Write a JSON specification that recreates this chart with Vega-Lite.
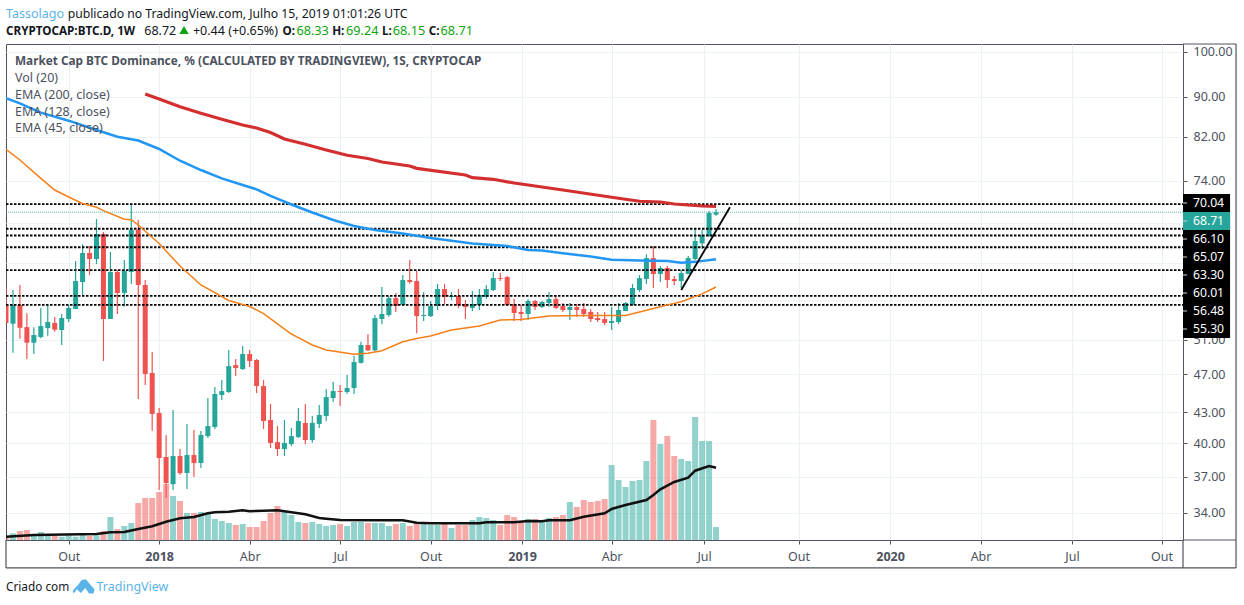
{
"$schema":"https://vega.github.io/schema/vega-lite/v6.json",
"width":1177,"height":496,
"autosize":"none",
"padding":{"left":6,"top":44,"right":61,"bottom":65},
"background":"#ffffff",
"config":{"view":{"stroke":"#50535e"},"font":"Noto Sans","text":{"font":"Noto Sans"}},
"datasets":{
"candles":[
{"date":"2017-07-31","open":55.29,"high":57.54,"low":53.01,"close":53.01,"vol":4},
{"date":"2017-08-07","open":52.92,"high":57.27,"low":49.45,"close":55.29,"vol":6.7},
{"date":"2017-08-14","open":55.29,"high":57.93,"low":51.09,"close":52.42,"vol":9},
{"date":"2017-08-21","open":52.5,"high":54.23,"low":48.72,"close":50.62,"vol":10},
{"date":"2017-08-28","open":50.62,"high":52.5,"low":49.3,"close":51.54,"vol":4},
{"date":"2017-09-04","open":51.3,"high":54.91,"low":51.14,"close":52.63,"vol":8},
{"date":"2017-09-11","open":52.38,"high":55.29,"low":51.45,"close":53.13,"vol":4.7},
{"date":"2017-09-18","open":53.01,"high":53.76,"low":51.94,"close":52.19,"vol":4},
{"date":"2017-09-25","open":52.15,"high":54.14,"low":50.35,"close":53.63,"vol":3.3},
{"date":"2017-10-02","open":53.51,"high":55.29,"low":53.13,"close":54.91,"vol":4.7},
{"date":"2017-10-09","open":54.78,"high":61.3,"low":54.78,"close":58.48,"vol":3.3},
{"date":"2017-10-16","open":58.35,"high":63.74,"low":56.6,"close":62.45,"vol":5.3},
{"date":"2017-10-23","open":62.45,"high":63.49,"low":59.31,"close":61.58,"vol":4},
{"date":"2017-10-30","open":61.58,"high":67.63,"low":60.85,"close":65.29,"vol":4.7},
{"date":"2017-11-06","open":65.29,"high":65.6,"low":48.5,"close":53.51,"vol":9},
{"date":"2017-11-13","open":53.51,"high":62.6,"low":53.51,"close":59.73,"vol":23},
{"date":"2017-11-20","open":59.73,"high":60.01,"low":54.14,"close":56.87,"vol":11},
{"date":"2017-11-27","open":56.87,"high":61.44,"low":55.07,"close":59.87,"vol":14},
{"date":"2017-12-04","open":59.73,"high":70.04,"low":58.07,"close":65.96,"vol":17},
{"date":"2017-12-11","open":65.96,"high":67.47,"low":44.36,"close":57.95,"vol":37},
{"date":"2017-12-18","open":57.95,"high":58.62,"low":45.84,"close":47.04,"vol":42},
{"date":"2017-12-25","open":47.15,"high":49.53,"low":41.2,"close":42.84,"vol":42},
{"date":"2018-01-01","open":42.94,"high":43.44,"low":35.85,"close":38.64,"vol":48},
{"date":"2018-01-08","open":38.73,"high":40.78,"low":35.18,"close":36.44,"vol":56},
{"date":"2018-01-15","open":36.35,"high":43.24,"low":35.85,"close":38.82,"vol":44},
{"date":"2018-01-22","open":38.82,"high":39.46,"low":37.13,"close":37.31,"vol":39},
{"date":"2018-01-29","open":37.31,"high":41.85,"low":35.93,"close":38.91,"vol":27},
{"date":"2018-02-05","open":38.91,"high":41.26,"low":36.96,"close":38.19,"vol":27},
{"date":"2018-02-12","open":38.19,"high":41.16,"low":37.75,"close":40.78,"vol":28},
{"date":"2018-02-19","open":40.68,"high":44.47,"low":40.49,"close":41.65,"vol":27},
{"date":"2018-02-26","open":41.55,"high":45.63,"low":41.36,"close":44.89,"vol":21},
{"date":"2018-03-05","open":44.78,"high":46.38,"low":44.26,"close":45.2,"vol":19},
{"date":"2018-03-12","open":45.1,"high":49.76,"low":44.99,"close":47.92,"vol":17},
{"date":"2018-03-19","open":48.03,"high":48.72,"low":46.82,"close":47.7,"vol":15},
{"date":"2018-03-26","open":47.59,"high":50.23,"low":47.48,"close":49.3,"vol":16},
{"date":"2018-04-02","open":49.3,"high":49.76,"low":47.81,"close":48.5,"vol":13},
{"date":"2018-04-09","open":48.61,"high":48.72,"low":44.99,"close":45.73,"vol":13},
{"date":"2018-04-16","open":45.73,"high":46.38,"low":41.36,"close":42.14,"vol":19},
{"date":"2018-04-23","open":42.24,"high":43.85,"low":39.55,"close":40.02,"vol":27},
{"date":"2018-04-30","open":40.11,"high":41.65,"low":38.82,"close":39.46,"vol":34},
{"date":"2018-05-07","open":39.46,"high":42.24,"low":38.82,"close":40.02,"vol":28},
{"date":"2018-05-14","open":39.92,"high":41.45,"low":39.74,"close":40.68,"vol":25},
{"date":"2018-05-21","open":40.58,"high":43.44,"low":40.49,"close":42.14,"vol":18},
{"date":"2018-05-28","open":41.95,"high":43.85,"low":39.92,"close":40.3,"vol":17},
{"date":"2018-06-04","open":40.3,"high":42.64,"low":40.04,"close":41.95,"vol":18},
{"date":"2018-06-11","open":41.85,"high":43.75,"low":41.45,"close":42.74,"vol":16},
{"date":"2018-06-18","open":42.64,"high":45.42,"low":42.14,"close":44.57,"vol":14},
{"date":"2018-06-25","open":44.47,"high":46.2,"low":44.05,"close":45.2,"vol":15},
{"date":"2018-07-02","open":45.2,"high":45.84,"low":43.65,"close":45.1,"vol":16},
{"date":"2018-07-09","open":45.1,"high":46.93,"low":44.89,"close":45.52,"vol":14},
{"date":"2018-07-16","open":45.52,"high":49.07,"low":44.89,"close":48.39,"vol":18},
{"date":"2018-07-23","open":48.29,"high":50.74,"low":48.2,"close":50.35,"vol":18},
{"date":"2018-07-30","open":50.35,"high":51.66,"low":49.64,"close":49.72,"vol":17},
{"date":"2018-08-06","open":49.72,"high":54.01,"low":49.56,"close":53.63,"vol":17},
{"date":"2018-08-13","open":53.51,"high":57.67,"low":52.85,"close":54.14,"vol":17},
{"date":"2018-08-20","open":54.01,"high":56.47,"low":53.8,"close":56.2,"vol":14},
{"date":"2018-08-27","open":56.2,"high":56.87,"low":54.4,"close":55.16,"vol":16},
{"date":"2018-09-03","open":55.29,"high":59.31,"low":55.12,"close":58.62,"vol":17},
{"date":"2018-09-10","open":58.62,"high":61.44,"low":58.11,"close":58.35,"vol":14},
{"date":"2018-09-17","open":58.48,"high":59.87,"low":51.75,"close":53.88,"vol":17},
{"date":"2018-09-24","open":53.88,"high":57,"low":53.25,"close":54.01,"vol":17},
{"date":"2018-10-01","open":53.88,"high":55.81,"low":53.76,"close":55.16,"vol":15},
{"date":"2018-10-08","open":55.16,"high":58.07,"low":54.65,"close":57.4,"vol":15},
{"date":"2018-10-15","open":57.4,"high":58.07,"low":55.42,"close":56.34,"vol":16},
{"date":"2018-10-22","open":56.34,"high":57,"low":55.94,"close":56.47,"vol":12},
{"date":"2018-10-29","open":56.47,"high":57.4,"low":54.91,"close":55.23,"vol":15},
{"date":"2018-11-05","open":55.42,"high":55.94,"low":53.51,"close":55.03,"vol":15},
{"date":"2018-11-12","open":54.91,"high":57.14,"low":54.52,"close":55.42,"vol":20},
{"date":"2018-11-19","open":55.29,"high":57.4,"low":54.65,"close":56.6,"vol":23},
{"date":"2018-11-26","open":56.34,"high":57.93,"low":56.07,"close":57.4,"vol":22},
{"date":"2018-12-03","open":57.27,"high":59.73,"low":57.14,"close":58.89,"vol":20},
{"date":"2018-12-10","open":58.89,"high":59.59,"low":58.48,"close":58.76,"vol":15},
{"date":"2018-12-17","open":59.03,"high":59.17,"low":55.2,"close":55.29,"vol":25},
{"date":"2018-12-24","open":55.42,"high":56.07,"low":53.25,"close":54.27,"vol":23},
{"date":"2018-12-31","open":54.4,"high":55.29,"low":53.25,"close":54.14,"vol":18},
{"date":"2019-01-07","open":54.14,"high":56.07,"low":53.38,"close":55.81,"vol":21},
{"date":"2019-01-14","open":55.81,"high":55.94,"low":54.65,"close":55.03,"vol":21},
{"date":"2019-01-21","open":55.03,"high":55.81,"low":54.91,"close":55.68,"vol":18},
{"date":"2019-01-28","open":55.55,"high":57,"low":55.03,"close":56.07,"vol":22},
{"date":"2019-02-04","open":56.07,"high":56.6,"low":54.78,"close":54.91,"vol":23},
{"date":"2019-02-11","open":55.16,"high":55.55,"low":54.4,"close":54.65,"vol":25},
{"date":"2019-02-18","open":54.65,"high":55.55,"low":53.38,"close":55.03,"vol":38},
{"date":"2019-02-25","open":55.03,"high":55.42,"low":53.76,"close":54.65,"vol":33},
{"date":"2019-03-04","open":54.78,"high":55.55,"low":53.76,"close":54.14,"vol":40},
{"date":"2019-03-11","open":54.4,"high":54.78,"low":53.13,"close":53.51,"vol":38},
{"date":"2019-03-18","open":53.63,"high":54.4,"low":53.13,"close":53.38,"vol":39},
{"date":"2019-03-25","open":53.51,"high":54.4,"low":52.75,"close":53.01,"vol":41},
{"date":"2019-04-01","open":53.01,"high":55.03,"low":52.15,"close":53.25,"vol":75},
{"date":"2019-04-08","open":53.13,"high":55.55,"low":52.88,"close":54.65,"vol":60},
{"date":"2019-04-15","open":54.52,"high":55.68,"low":54.52,"close":55.55,"vol":53},
{"date":"2019-04-22","open":55.29,"high":58.07,"low":55.16,"close":57.54,"vol":59},
{"date":"2019-04-29","open":57.27,"high":59.31,"low":57,"close":58.89,"vol":60},
{"date":"2019-05-06","open":58.76,"high":62.26,"low":58.07,"close":61.72,"vol":79},
{"date":"2019-05-13","open":61.72,"high":63.49,"low":57.54,"close":59.45,"vol":120},
{"date":"2019-05-20","open":59.45,"high":60.58,"low":58.35,"close":60.3,"vol":96},
{"date":"2019-05-27","open":60.3,"high":60.58,"low":57.54,"close":58.62,"vol":104},
{"date":"2019-06-03","open":58.76,"high":59.17,"low":57.95,"close":58.48,"vol":84},
{"date":"2019-06-10","open":58.48,"high":60.01,"low":57.54,"close":59.59,"vol":81},
{"date":"2019-06-17","open":59.45,"high":62,"low":59.45,"close":61.72,"vol":79},
{"date":"2019-06-24","open":61.58,"high":66.2,"low":61.45,"close":64.23,"vol":123},
{"date":"2019-07-01","open":63.89,"high":65.91,"low":63.04,"close":65.14,"vol":99},
{"date":"2019-07-08","open":64.94,"high":68.9,"low":64.94,"close":68.6,"vol":99},
{"date":"2019-07-15","open":68.33,"high":69.24,"low":68.15,"close":68.71,"vol":13}
],
"volMA":[
{"date":"2017-07-31","vma":3.3},{"date":"2017-08-28","vma":5},{"date":"2017-10-30","vma":6},{"date":"2017-11-13","vma":7.7},{"date":"2017-11-27","vma":8},{"date":"2017-12-11","vma":11},{"date":"2017-12-25","vma":13.7},{"date":"2018-01-08","vma":18.3},{"date":"2018-01-22","vma":21.7},{"date":"2018-02-05","vma":23},{"date":"2018-02-19","vma":26.7},{"date":"2018-02-26","vma":27.7},{"date":"2018-03-12","vma":28.3},{"date":"2018-03-26","vma":29.7},{"date":"2018-04-02","vma":28.7},{"date":"2018-04-16","vma":29.3},{"date":"2018-04-30","vma":29.7},{"date":"2018-05-14","vma":27.7},{"date":"2018-05-28","vma":25.7},{"date":"2018-06-11","vma":22},{"date":"2018-06-18","vma":21.3},{"date":"2018-07-02","vma":20},{"date":"2018-08-06","vma":19.7},{"date":"2018-09-03","vma":19.7},{"date":"2018-09-17","vma":17.3},{"date":"2018-10-01","vma":16.7},{"date":"2018-11-19","vma":16.7},{"date":"2018-11-26","vma":17.7},{"date":"2018-12-24","vma":17.7},{"date":"2019-01-07","vma":19},{"date":"2019-01-21","vma":18.7},{"date":"2019-01-28","vma":19.7},{"date":"2019-02-18","vma":19.7},{"date":"2019-03-04","vma":23.3},{"date":"2019-03-25","vma":26.7},{"date":"2019-04-01","vma":31},{"date":"2019-04-15","vma":35},{"date":"2019-05-06","vma":40},{"date":"2019-05-13","vma":45},{"date":"2019-05-20","vma":50.7},{"date":"2019-06-03","vma":58},{"date":"2019-06-17","vma":62.3},{"date":"2019-06-24","vma":69.3},{"date":"2019-07-08","vma":74},{"date":"2019-07-15","vma":72.3}
],
"ema200":[
{"date":"2017-12-18","ema":90.63},{"date":"2018-01-01","ema":89.57},{"date":"2018-01-22","ema":87.98},{"date":"2018-02-12","ema":86.62},{"date":"2018-03-05","ema":85.42},{"date":"2018-03-26","ema":84.28},{"date":"2018-04-09","ema":83.69},{"date":"2018-04-23","ema":82.82},{"date":"2018-05-07","ema":81.57},{"date":"2018-05-28","ema":80.56},{"date":"2018-06-18","ema":79.49},{"date":"2018-07-09","ema":78.51},{"date":"2018-07-30","ema":77.93},{"date":"2018-08-13","ema":77.29},{"date":"2018-09-10","ema":76.57},{"date":"2018-09-17","ema":76.15},{"date":"2018-11-05","ema":74.97},{"date":"2018-11-12","ema":74.5},{"date":"2018-12-03","ema":74.22},{"date":"2018-12-24","ema":73.58},{"date":"2019-02-11","ema":72.38},{"date":"2019-04-01","ema":71.16},{"date":"2019-04-29","ema":70.5},{"date":"2019-05-20","ema":70.38},{"date":"2019-06-03","ema":70.05},{"date":"2019-07-01","ema":69.72},{"date":"2019-07-15","ema":69.67}
],
"ema128":[
{"date":"2017-07-31","ema":89.73},{"date":"2017-08-14","ema":88.68},{"date":"2017-09-04","ema":86.75},{"date":"2017-10-02","ema":85.14},{"date":"2017-10-30","ema":83.3},{"date":"2017-11-20","ema":82},{"date":"2017-12-11","ema":81.28},{"date":"2018-01-01","ema":79.68},{"date":"2018-01-22","ema":77.52},{"date":"2018-02-12","ema":75.85},{"date":"2018-03-05","ema":74.39},{"date":"2018-03-26","ema":73.23},{"date":"2018-04-09","ema":72.5},{"date":"2018-04-23","ema":71.38},{"date":"2018-05-14","ema":69.97},{"date":"2018-06-04","ema":68.67},{"date":"2018-06-25","ema":67.48},{"date":"2018-07-16","ema":66.53},{"date":"2018-08-06","ema":65.91},{"date":"2018-09-03","ema":65.37},{"date":"2018-10-01","ema":64.69},{"date":"2018-11-12","ema":63.86},{"date":"2018-12-17","ema":63.49},{"date":"2019-01-07","ema":62.9},{"date":"2019-01-21","ema":62.82},{"date":"2019-02-11","ema":62.41},{"date":"2019-03-11","ema":61.95},{"date":"2019-04-01","ema":61.48},{"date":"2019-04-29","ema":61.36},{"date":"2019-05-27","ema":61.28},{"date":"2019-06-10","ema":61.05},{"date":"2019-06-24","ema":61.17},{"date":"2019-07-15","ema":61.54}
],
"ema45":[
{"date":"2017-07-31","ema":79.62},{"date":"2017-08-14","ema":77.65},{"date":"2017-09-04","ema":74.39},{"date":"2017-09-18","ema":72.38},{"date":"2017-10-02","ema":71.2},{"date":"2017-10-16","ema":70.13},{"date":"2017-10-30","ema":69.51},{"date":"2017-11-06","ema":68.96},{"date":"2017-11-27","ema":67.59},{"date":"2017-12-04","ema":67.53},{"date":"2017-12-11","ema":66.69},{"date":"2018-01-01","ema":63.86},{"date":"2018-01-22","ema":60.58},{"date":"2018-02-12","ema":57.95},{"date":"2018-03-12","ema":55.88},{"date":"2018-04-02","ema":55.1},{"date":"2018-04-16","ema":54.2},{"date":"2018-05-14","ema":51.66},{"date":"2018-05-21","ema":51.22},{"date":"2018-06-04","ema":50.35},{"date":"2018-06-18","ema":49.76},{"date":"2018-07-16","ema":49.26},{"date":"2018-07-30","ema":49.38},{"date":"2018-08-13","ema":49.68},{"date":"2018-09-03","ema":50.74},{"date":"2018-09-17","ema":51.12},{"date":"2018-10-01","ema":51.42},{"date":"2018-10-22","ema":52.15},{"date":"2018-11-19","ema":52.63},{"date":"2018-12-10","ema":53.38},{"date":"2018-12-31","ema":53.46},{"date":"2019-01-28","ema":53.9},{"date":"2019-03-04","ema":53.95},{"date":"2019-04-15","ema":53.95},{"date":"2019-04-29","ema":54.4},{"date":"2019-05-27","ema":55.29},{"date":"2019-06-10","ema":55.72},{"date":"2019-07-01","ema":56.75},{"date":"2019-07-15","ema":57.67}
],
"trend":[{"date":"2019-06-10","level":57.27},{"date":"2019-07-29","level":69.51}],
"levels":[
{"date":"2017-07-31","date2":"2020-10-26T14:00:00Z","level":70.04},
{"date":"2017-07-31","date2":"2020-10-26T14:00:00Z","level":66.1},
{"date":"2017-07-31","date2":"2020-10-26T14:00:00Z","level":65.07},
{"date":"2017-07-31","date2":"2020-10-26T14:00:00Z","level":63.3},
{"date":"2017-07-31","date2":"2020-10-26T14:00:00Z","level":60.01},
{"date":"2017-07-31","date2":"2020-10-26T14:00:00Z","level":56.48},
{"date":"2017-07-31","date2":"2020-10-26T14:00:00Z","level":55.3}
],
"lastPrice":[{"date":"2017-07-31","date2":"2020-10-26T14:00:00Z","level":68.71}],
"frameH":[
{"date":"2020-10-26T14:00:00Z","date2":"2020-12-18T22:00:00Z","level":101.89},
{"date":"2020-10-26T14:00:00Z","date2":"2020-12-18T22:00:00Z","level":31.89},
{"date":"2017-07-31","date2":"2020-12-18T22:00:00Z","level":29.87}
],
"frameV":[
{"date":"2017-07-31","level":31.89,"level2":29.87},
{"date":"2020-10-26T14:00:00Z","level":31.89,"level2":29.87},
{"date":"2020-12-18T22:00:00Z","level":101.89,"level2":29.87}
],
"tagBlack":[{"date":"2020-10-26T14:00:00Z","date2":"2020-12-12T22:00:00Z","level":71.71,"level2":51.18}],
"tagTeal":[{"date":"2020-10-26T14:00:00Z","date2":"2020-12-12T22:00:00Z","level":68.75,"level2":65.91}],
"tagTick":[
{"date":"2020-10-26T14:00:00Z","date2":"2020-10-30T14:00:00Z","level":70.21},
{"date":"2020-10-26T14:00:00Z","date2":"2020-10-30T14:00:00Z","level":67.31},
{"date":"2020-10-26T14:00:00Z","date2":"2020-10-30T14:00:00Z","level":64.53},
{"date":"2020-10-26T14:00:00Z","date2":"2020-10-30T14:00:00Z","level":61.87},
{"date":"2020-10-26T14:00:00Z","date2":"2020-10-30T14:00:00Z","level":59.32},
{"date":"2020-10-26T14:00:00Z","date2":"2020-10-30T14:00:00Z","level":56.87},
{"date":"2020-10-26T14:00:00Z","date2":"2020-10-30T14:00:00Z","level":54.52},
{"date":"2020-10-26T14:00:00Z","date2":"2020-10-30T14:00:00Z","level":52.27}
],
"tagText":[
{"date":"2020-11-05T14:00:00Z","level":70.21,"label":"70.04"},
{"date":"2020-11-05T14:00:00Z","level":67.31,"label":"68.71"},
{"date":"2020-11-05T14:00:00Z","level":64.53,"label":"66.10"},
{"date":"2020-11-05T14:00:00Z","level":61.87,"label":"65.07"},
{"date":"2020-11-05T14:00:00Z","level":59.32,"label":"63.30"},
{"date":"2020-11-05T14:00:00Z","level":56.87,"label":"60.01"},
{"date":"2020-11-05T14:00:00Z","level":54.52,"label":"56.48"},
{"date":"2020-11-05T14:00:00Z","level":52.27,"label":"55.30"}
],
"textHead":[{"date":"2017-10-01","level":109.3,"label":"publicado no TradingView.com, Julho 15, 2019 01:01:26 UTC"}],
"textPlain":[
{"date":"2017-12-17","level":105.0,"label":"68.72"},
{"date":"2018-02-04","level":105.0,"label":"+0.44 (+0.65%)"}
],
"textFooter":[{"date":"2017-07-31","level":28.57,"label":"Criado com"}],
"textBold":[
{"date":"2017-07-31","level":105.0,"label":"CRYPTOCAP:BTC.D, 1W"},
{"date":"2018-05-05","level":105.0,"label":"O:"},
{"date":"2018-06-24","level":105.0,"label":"H:"},
{"date":"2018-08-13","level":105.0,"label":"L:"},
{"date":"2018-09-29","level":105.0,"label":"C:"}
],
"textGreen":[
{"date":"2018-05-19","level":105.0,"label":"68.33"},
{"date":"2018-07-08","level":105.0,"label":"69.24"},
{"date":"2018-08-24","level":105.0,"label":"68.15"},
{"date":"2018-10-11","level":105.0,"label":"68.71"}
],
"arrow":[{"date":"2018-01-26","level":105.29}],
"textBlue":[
{"date":"2017-07-31","level":109.3,"label":"Tassolago"},
{"date":"2017-10-30","level":28.57,"label":"TradingView"}
],
"legendTitle":[{"date":"2017-08-09","level":97.91,"label":"Market Cap BTC Dominance, % (CALCULATED BY TRADINGVIEW), 1S, CRYPTOCAP"}],
"legendRows":[
{"date":"2017-08-09","level":94.15,"label":"Vol (20)"},
{"date":"2017-08-09","level":90.4,"label":"EMA (200, close)"},
{"date":"2017-08-09","level":86.9,"label":"EMA (128, close)"},
{"date":"2017-08-09","level":83.69,"label":"EMA (45, close)"}
],
"logo":[{"date":"2017-10-17","level":28.57}]
},
"encoding":{
"x":{"field":"date","type":"temporal","title":null,
"scale":{"type":"utc","padding":0,"domain":["2017-07-31T00:00:00Z","2020-10-26T14:00:00Z"]},
"axis":{"orient":"bottom","title":null,"domain":false,"grid":true,"gridColor":"#eaf1f6","tickColor":"#50535e","tickSize":4,
"values":["2017-10-02T00:00:00Z","2018-01-01T00:00:00Z","2018-04-02T00:00:00Z","2018-07-02T00:00:00Z","2018-10-01T00:00:00Z","2019-01-01T00:00:00Z","2019-04-01T00:00:00Z","2019-07-03T00:00:00Z","2019-10-06T00:00:00Z","2020-01-06T00:00:00Z","2020-04-06T00:00:00Z","2020-07-07T00:00:00Z","2020-10-05T00:00:00Z"],
"labelExpr":"utcmonth(datum.value)==0?utcFormat(datum.value,'%Y'):utcmonth(datum.value)==3?'Abr':utcmonth(datum.value)==6?'Jul':'Out'",
"labelFontWeight":{"condition":{"test":"utcmonth(datum.value)==0","value":"bold"},"value":"normal"},
"labelColor":"#4c525e","labelFontSize":12.5,"labelPadding":6,"labelOverlap":false,"labelBound":false,"labelFlush":false}}
},
"layer":[
{"layer":[
{"data":{"name":"candles"},"mark":{"type":"bar","size":6,"clip":true},
"encoding":{"y":{"field":"vol","type":"quantitative","scale":{"domain":[0,496]},"axis":null},
"color":{"condition":{"test":"datum.close>=datum.open","value":"#26a69a"},"value":"#ef5350"},"opacity":{"value":0.5}}},
{"data":{"name":"volMA"},"mark":{"type":"line","color":"#111111","strokeWidth":2.5,"clip":true},
"encoding":{"y":{"field":"vma","type":"quantitative","scale":{"domain":[0,496]},"axis":null}}}
]},
{"layer":[
{"data":{"name":"candles"},"mark":{"type":"rule","strokeWidth":1.2,"clip":true},
"encoding":{"y":{"field":"high","type":"quantitative","title":null,"scale":{"type":"log","domain":[31.89,101.89]},
"axis":{"orient":"right","title":null,"domain":false,"grid":true,"gridColor":"#eef3f7","tickColor":"#50535e","tickSize":4,"values":[100,90,82,74,67,61,56,51,47,43,40,37,34],"labelExpr":"indexof([67,61,56],datum.value)>=0?'':format(datum.value,'.2f')","labelColor":"#4c525e","labelFontSize":12.5,"labelPadding":6,"labelOverlap":false,"labelBound":false}},
"y2":{"field":"low"},
"color":{"condition":{"test":"datum.close>=datum.open","value":"#26a69a"},"value":"#ef5350"}}},
{"data":{"name":"candles"},"mark":{"type":"bar","size":5,"clip":true},
"encoding":{"y":{"field":"open","type":"quantitative","title":null,"scale":{"type":"log","domain":[31.89,101.89]}},
"y2":{"field":"close"},
"color":{"condition":{"test":"datum.close>=datum.open","value":"#26a69a"},"value":"#ef5350"}}},
{"data":{"name":"levels"},"mark":{"type":"rule","color":"#000000","strokeWidth":1.8,"strokeDash":[2.5,1.5]},
"encoding":{"x2":{"field":"date2"},"y":{"field":"level","type":"quantitative","title":null,"scale":{"type":"log","domain":[31.89,101.89]}}}},
{"data":{"name":"lastPrice"},"mark":{"type":"rule","color":"#26a69a","strokeWidth":1,"strokeDash":[1,1],"opacity":0.7},
"encoding":{"x2":{"field":"date2"},"y":{"field":"level","type":"quantitative","title":null,"scale":{"type":"log","domain":[31.89,101.89]}}}},
{"data":{"name":"ema45"},"mark":{"type":"line","color":"#f57f17","strokeWidth":1.5,"clip":true},
"encoding":{"y":{"field":"ema","type":"quantitative","title":null,"scale":{"type":"log","domain":[31.89,101.89]}}}},
{"data":{"name":"ema128"},"mark":{"type":"line","color":"#2196f3","strokeWidth":2.5,"clip":true},
"encoding":{"y":{"field":"ema","type":"quantitative","title":null,"scale":{"type":"log","domain":[31.89,101.89]}}}},
{"data":{"name":"ema200"},"mark":{"type":"line","color":"#d32f2f","strokeWidth":3.2,"clip":true},
"encoding":{"y":{"field":"ema","type":"quantitative","title":null,"scale":{"type":"log","domain":[31.89,101.89]}}}},
{"data":{"name":"trend"},"mark":{"type":"line","color":"#000000","strokeWidth":1.8},
"encoding":{"y":{"field":"level","type":"quantitative","title":null,"scale":{"type":"log","domain":[31.89,101.89]}}}},
{"data":{"name":"frameH"},"mark":{"type":"rule","color":"#50535e","strokeWidth":1.2},
"encoding":{"x2":{"field":"date2"},"y":{"field":"level","type":"quantitative","title":null,"scale":{"type":"log","domain":[31.89,101.89]}}}},
{"data":{"name":"frameV"},"mark":{"type":"rule","color":"#50535e","strokeWidth":1.2},
"encoding":{"y":{"field":"level","type":"quantitative","title":null,"scale":{"type":"log","domain":[31.89,101.89]}},"y2":{"field":"level2"}}},
{"data":{"name":"tagBlack"},"mark":{"type":"rect","color":"#000000"},
"encoding":{"x2":{"field":"date2"},"y":{"field":"level","type":"quantitative","title":null,"scale":{"type":"log","domain":[31.89,101.89]}},"y2":{"field":"level2"}}},
{"data":{"name":"tagTeal"},"mark":{"type":"rect","color":"#26a69a"},
"encoding":{"x2":{"field":"date2"},"y":{"field":"level","type":"quantitative","title":null,"scale":{"type":"log","domain":[31.89,101.89]}},"y2":{"field":"level2"}}},
{"data":{"name":"tagTick"},"mark":{"type":"rule","color":"#d6d8dc","strokeWidth":1},
"encoding":{"x2":{"field":"date2"},"y":{"field":"level","type":"quantitative","title":null,"scale":{"type":"log","domain":[31.89,101.89]}}}},
{"data":{"name":"tagText"},"mark":{"type":"text","align":"left","baseline":"middle","color":"#ffffff","fontSize":12.2},
"encoding":{"text":{"field":"label"},"y":{"field":"level","type":"quantitative","title":null,"scale":{"type":"log","domain":[31.89,101.89]}}}},
{"data":{"name":"textHead"},"mark":{"type":"text","align":"left","baseline":"middle","color":"#131722","fontSize":12.2},
"encoding":{"text":{"field":"label"},"y":{"field":"level","type":"quantitative","title":null,"scale":{"type":"log","domain":[31.89,101.89]}}}},
{"data":{"name":"textPlain"},"mark":{"type":"text","align":"left","baseline":"middle","color":"#131722","fontSize":12.5},
"encoding":{"text":{"field":"label"},"y":{"field":"level","type":"quantitative","title":null,"scale":{"type":"log","domain":[31.89,101.89]}}}},
{"data":{"name":"textFooter"},"mark":{"type":"text","align":"left","baseline":"middle","color":"#131722","fontSize":11.8},
"encoding":{"text":{"field":"label"},"y":{"field":"level","type":"quantitative","title":null,"scale":{"type":"log","domain":[31.89,101.89]}}}},
{"data":{"name":"textBold"},"mark":{"type":"text","align":"left","baseline":"middle","color":"#131722","fontSize":11.7,"fontWeight":"bold"},
"encoding":{"text":{"field":"label"},"y":{"field":"level","type":"quantitative","title":null,"scale":{"type":"log","domain":[31.89,101.89]}}}},
{"data":{"name":"textGreen"},"mark":{"type":"text","align":"left","baseline":"middle","color":"#10a310","fontSize":12.7},
"encoding":{"text":{"field":"label"},"y":{"field":"level","type":"quantitative","title":null,"scale":{"type":"log","domain":[31.89,101.89]}}}},
{"data":{"name":"arrow"},"mark":{"type":"point","shape":"triangle-up","filled":true,"opacity":1,"color":"#10a310","size":90},
"encoding":{"y":{"field":"level","type":"quantitative","title":null,"scale":{"type":"log","domain":[31.89,101.89]}}}},
{"data":{"name":"textBlue"},"mark":{"type":"text","align":"left","baseline":"middle","color":"#5bb4e8","fontSize":12.5},
"encoding":{"text":{"field":"label"},"y":{"field":"level","type":"quantitative","title":null,"scale":{"type":"log","domain":[31.89,101.89]}}}},
{"data":{"name":"legendTitle"},"mark":{"type":"text","align":"left","baseline":"middle","color":"#4c525e","fontSize":11.8,"fontWeight":"bold"},
"encoding":{"text":{"field":"label"},"y":{"field":"level","type":"quantitative","title":null,"scale":{"type":"log","domain":[31.89,101.89]}}}},
{"data":{"name":"legendRows"},"mark":{"type":"text","align":"left","baseline":"middle","color":"#4c525e","fontSize":12.5},
"encoding":{"text":{"field":"label"},"y":{"field":"level","type":"quantitative","title":null,"scale":{"type":"log","domain":[31.89,101.89]}}}},
{"data":{"name":"logo"},"mark":{"type":"point","filled":true,"opacity":1,"color":"#5bb4e8","size":484,"shape":"M-1 0.35 L-0.45 -0.25 L-0.2 -0.6 L0.2 -0.7 L0.55 -0.3 L0.7 -0.1 L1 0.2 L0.9 0.6 L0.5 0.6 L0.15 0.1 L-0.25 0.55 L-0.6 0.2 L-0.9 0.6 Z"},
"encoding":{"y":{"field":"level","type":"quantitative","title":null,"scale":{"type":"log","domain":[31.89,101.89]}}}}
]}
],
"resolve":{"scale":{"y":"independent"}}
}
